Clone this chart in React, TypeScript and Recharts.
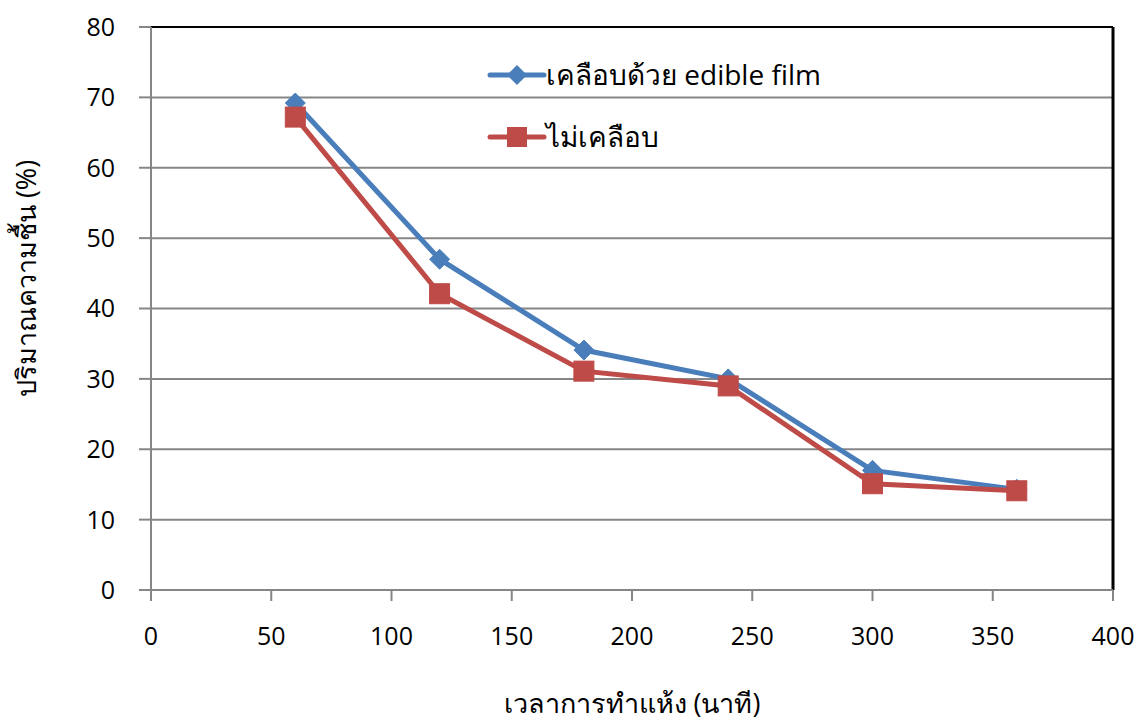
import React from 'react';
import {
  LineChart,
  Line,
  XAxis,
  YAxis,
  CartesianGrid,
  Legend,
  Label,
  ReferenceLine,
} from 'recharts';

const dryingTimes = [60, 120, 180, 240, 300, 360];
const coatedMoisture = [69.2, 47.0, 34.1, 30.0, 17.0, 14.3];
const uncoatedMoisture = [67.2, 42.1, 31.1, 29.0, 15.1, 14.1];
const xTicks = [0, 50, 100, 150, 200, 250, 300, 350, 400];
const yTicks = [0, 10, 20, 30, 40, 50, 60, 70, 80];

const seriesNames = ['เคลือบด้วย edible film', 'ไม่เคลือบ'];
const BLUE = '#4A7EBB';
const RED = '#BE4B48';
const FONT = '"Open Sans", "Noto Sans", "DejaVu Sans", sans-serif';

const data = dryingTimes.map((t, i) => ({
  time: t,
  coated: coatedMoisture[i],
  uncoated: uncoatedMoisture[i],
}));

const Diamond = (props: any) => {
  const { cx, cy } = props;
  if (cx == null || cy == null) return null;
  const r = 10;
  return (
    <path
      d={`M${cx},${cy - r} L${cx + r},${cy} L${cx},${cy + r} L${cx - r},${cy} Z`}
      fill={BLUE}
      stroke={BLUE}
      strokeWidth={1}
    />
  );
};

const Square = (props: any) => {
  const { cx, cy } = props;
  if (cx == null || cy == null) return null;
  const s = 10;
  return <rect x={cx - s} y={cy - s} width={s * 2} height={s * 2} fill={RED} stroke={RED} strokeWidth={1} />;
};

const CustomLegend = () => {
  return (
    <svg width={360} height={100} style={{ overflow: 'visible', display: 'block' }}>
      <g>
        <line x1={2} y1={14} x2={56} y2={14} stroke={BLUE} strokeWidth={5} strokeLinecap="round" />
        <path d="M29,4 L39,14 L29,24 L19,14 Z" fill={BLUE} />
        <text x={58} y={24} fontSize={28} fontFamily={FONT} fill="#000">
          {seriesNames[0]}
        </text>
      </g>
      <g>
        <line x1={2} y1={76} x2={56} y2={76} stroke={RED} strokeWidth={5} strokeLinecap="round" />
        <rect x={19} y={66} width={20} height={20} fill={RED} />
        <text x={58} y={86} fontSize={28} fontFamily={FONT} fill="#000">
          {seriesNames[1]}
        </text>
      </g>
    </svg>
  );
};

export default function App() {
  return (
    <div style={{ position: 'absolute', left: 0, top: 0, width: 1137, height: 722, background: '#fff' }}>
      <LineChart
        width={1137}
        height={722}
        data={data}
        margin={{ top: 27, right: 24, bottom: 0, left: 0 }}
      >
        <CartesianGrid horizontal vertical={false} stroke="#868686" strokeWidth={2} />
        <XAxis
          dataKey="time"
          type="number"
          domain={[0, 400]}
          ticks={xTicks}
          height={132}
          tickSize={11}
          tickMargin={26}
          stroke="#868686"
          strokeWidth={2}
          tick={{ fill: '#000', fontSize: 25, fontFamily: FONT }}
        >
          <Label
            value="เวลาการทำแห้ง (นาที)"
            position="insideBottom"
            offset={9}
            style={{ fill: '#000', fontSize: 27, fontFamily: FONT, textAnchor: 'middle' }}
          />
        </XAxis>
        <YAxis
          type="number"
          domain={[0, 80]}
          ticks={yTicks}
          width={151}
          tickSize={12}
          tickMargin={24}
          stroke="#868686"
          strokeWidth={2}
          tick={{ fill: '#000', fontSize: 25, fontFamily: FONT }}
        >
          <Label
            value="ปริมาณความชื้น (%)"
            angle={-90}
            position="insideLeft"
            offset={26}
            dy={-30}
            style={{ fill: '#000', fontSize: 27, fontFamily: FONT, textAnchor: 'middle' }}
          />
        </YAxis>
        <ReferenceLine y={80} stroke="#000" strokeWidth={2} />
        <ReferenceLine x={400} stroke="#000" strokeWidth={3} />
        <Legend
          layout="vertical"
          verticalAlign="middle"
          align="center"
          wrapperStyle={{ left: 488, top: 61, width: 360, height: 100 }}
          content={<CustomLegend />}
        />
        <Line
          type="linear"
          dataKey="coated"
          name={seriesNames[0]}
          stroke={BLUE}
          strokeWidth={5}
          dot={<Diamond />}
          activeDot={false}
          isAnimationActive={false}
        />
        <Line
          type="linear"
          dataKey="uncoated"
          name={seriesNames[1]}
          stroke={RED}
          strokeWidth={5}
          dot={<Square />}
          activeDot={false}
          isAnimationActive={false}
        />
      </LineChart>
    </div>
  );
}
